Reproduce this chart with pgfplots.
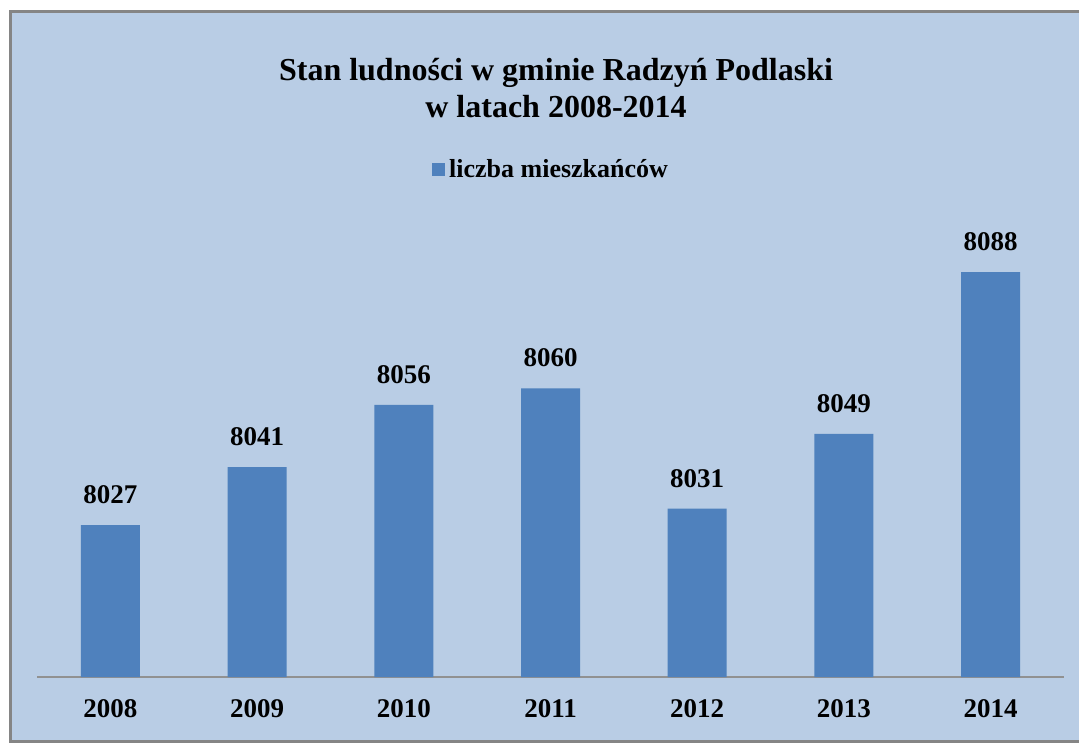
\documentclass[border=0pt]{standalone}
\usepackage{pgfplots}
\pgfplotsset{compat=1.18}
\usepackage{fontspec}
\setmainfont{Liberation Serif}
\definecolor{bgblue}{HTML}{B9CDE5}
\definecolor{barblue}{HTML}{4F81BD}
\definecolor{framegray}{HTML}{858585}
\begin{document}
\begin{tikzpicture}
\path[use as bounding box] (0,0) rectangle (539.5pt,371.5pt);
\filldraw[fill=bgblue, draw=framegray, line width=1.5pt] (5pt,1pt) rectangle (545pt,365.5pt);
\node[align=center, font=\fontsize{16}{18.5}\selectfont\bfseries] at (278pt,327.5pt)
  {Stan ludności w gminie Radzyń Podlaski\\w latach 2008-2014};
\begin{axis}[
  at={(18.5pt,33pt)}, anchor=south west,
  scale only axis,
  width=513.5pt, height=229pt,
  ybar, bar width=29.5pt,
  xmin=-0.5, xmax=6.5,
  ymin=7990.4, ymax=8100.8,
  axis y line=none,
  axis x line*=bottom,
  x axis line style={draw=framegray!90, line width=0.6pt},
  xtick={0,...,6},
  xticklabels={2008,2009,2010,2011,2012,2013,2014},
  xtick style={draw=none},
  xticklabel style={font=\fontsize{13.5}{16}\selectfont\bfseries, yshift=-3.5pt},
  /pgf/number format/set thousands separator={},
  /pgf/number format/assume math mode=true,
  nodes near coords,
  every node near coord/.append style={font=\fontsize{13.5}{16}\selectfont\bfseries, yshift=7pt},
  legend style={at={(0.5015,1.107)}, anchor=center, draw=none, fill=none,
    font=\fontsize{13}{15}\selectfont\bfseries},
]
\addplot[fill=barblue, draw=none,
  legend image code/.code={\fill[barblue] (0pt,-3.25pt) rectangle (6.5pt,3.25pt);}]
  coordinates {(0,8027) (1,8041) (2,8056) (3,8060) (4,8031) (5,8049) (6,8088)};
\addlegendentry{liczba mieszkańców}
\end{axis}
\end{tikzpicture}
\end{document}
